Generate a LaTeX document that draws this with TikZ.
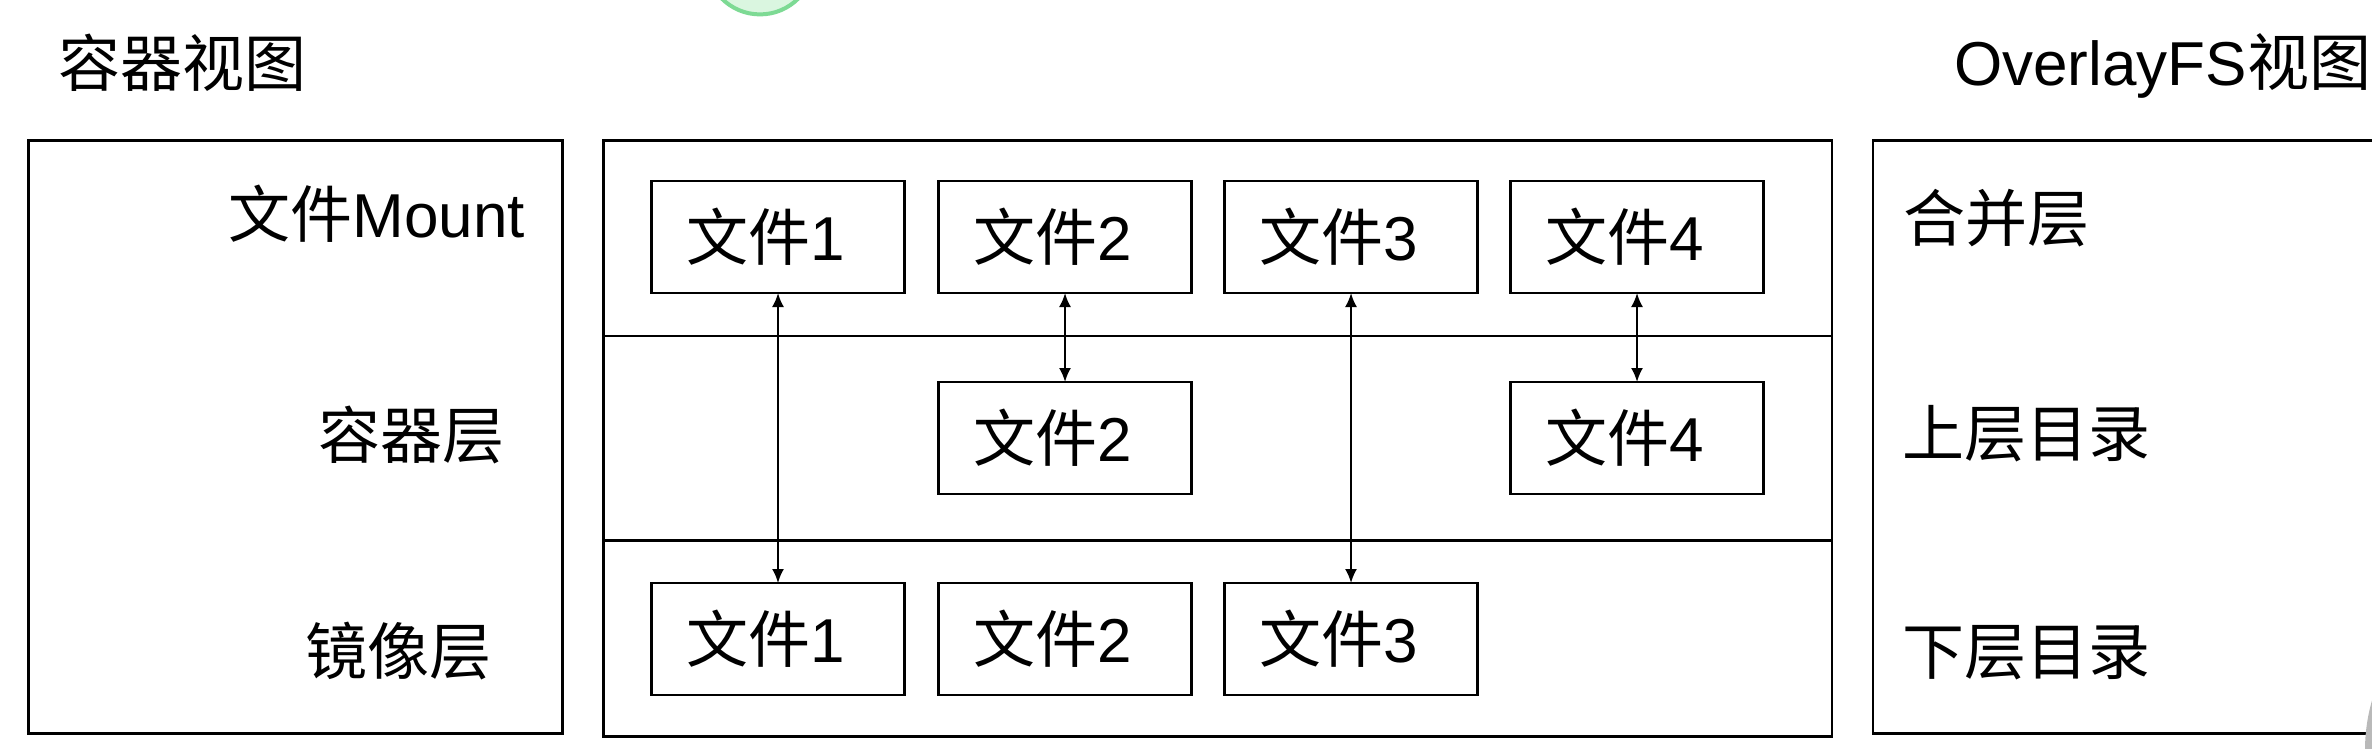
\documentclass[tikz,border=0pt]{standalone}
\usepackage{fontspec}
\setmainfont{Liberation Sans}
\newfontfamily\cjk{Noto Sans CJK SC}
\newcommand\cj[1]{{\cjk #1}}
\usetikzlibrary{arrows.meta}
\definecolor{ringgreen}{RGB}{125,218,148}
\definecolor{fillgreen}{RGB}{218,246,224}
\definecolor{discgray}{RGB}{185,185,185}
\tikzset{
  every node/.style={font=\fontsize{62}{70}\selectfont},
  panel/.style={draw=black, line width=2.6pt, inner sep=0pt, outer sep=0pt},
  filebox/.style={draw=black, line width=2.6pt, minimum width=253pt, minimum height=112pt, inner sep=0pt, outer sep=0pt},
  lbl/.style={inner sep=0pt, outer sep=0pt},
  conn/.style={line width=2pt, {Latex[length=14pt,width=12pt]}-{Latex[length=14pt,width=12pt]}},
  divider/.style={line width=2.6pt}
}
\newcommand\fl[1]{\cj{文件}#1\kern24pt}
\begin{document}
\begin{tikzpicture}[x=1pt,y=-1pt]
\useasboundingbox (0,0) rectangle (2372,748);
\clip (0,0) rectangle (2372,748);
\fill[white] (0,0) rectangle (2372,748);
% decorative circle at top
\draw[ringgreen, line width=4pt, fill=fillgreen] (760,-39.6) circle (54pt);
% titles
\node[lbl, anchor=base west] (t1) at (58,86) {\cj{容器视图}};
\node[lbl, anchor=base east] (t2) at (2371,85) {OverlayFS\cj{视图}};
% panels
\node[panel, minimum width=534pt, minimum height=593pt] (left) at (295.75,437.2) {};
\node[panel, minimum width=1228.4pt, minimum height=596pt] (mid) at (1217.8,438.7) {};
\node[panel, minimum width=527pt, minimum height=593pt] (right) at (2136.5,437.2) {};
% dividers
\coordinate (d1a) at (603.6,335.8);
\coordinate (d1b) at (1832,335.8);
\coordinate (d2a) at (603.6,540.3);
\coordinate (d2b) at (1832,540.3);
\draw[divider] (d1a) -- (d1b);
\draw[divider] (d2a) -- (d2b);
% left labels
\node[lbl, anchor=base east] (lm) at (525,237) {\cj{文件}Mount};
\node[lbl, anchor=base east] (lc) at (504,458) {\cj{容器层}};
\node[lbl, anchor=base east] (li) at (491,674) {\cj{镜像层}};
% right labels
\node[lbl, anchor=base west] (r1) at (1903,241) {\cj{合并层}};
\node[lbl, anchor=base west] (r2) at (1902,456) {\cj{上层目录}};
\node[lbl, anchor=base west] (r3) at (1902,674) {\cj{下层目录}};
% file boxes
\node[filebox] (a1) at (778,237) {\fl{1}};
\node[filebox] (a2) at (1065,237) {\fl{2}};
\node[filebox] (a3) at (1351,237) {\fl{3}};
\node[filebox] (a4) at (1637,237) {\fl{4}};
\node[filebox] (b2) at (1065,438) {\fl{2}};
\node[filebox] (b4) at (1637,438) {\fl{4}};
\node[filebox] (c1) at (778,639) {\fl{1}};
\node[filebox] (c2) at (1065,639) {\fl{2}};
\node[filebox] (c3) at (1351,639) {\fl{3}};
% connectors
\draw[conn] (a1.south) -- (c1.north);
\draw[conn] (a2.south) -- (b2.north);
\draw[conn] (a3.south) -- (c3.north);
\draw[conn] (a4.south) -- (b4.north);
% gray disc at bottom right
\fill[discgray] (2543,750) circle (178pt);
\end{tikzpicture}
\end{document}
